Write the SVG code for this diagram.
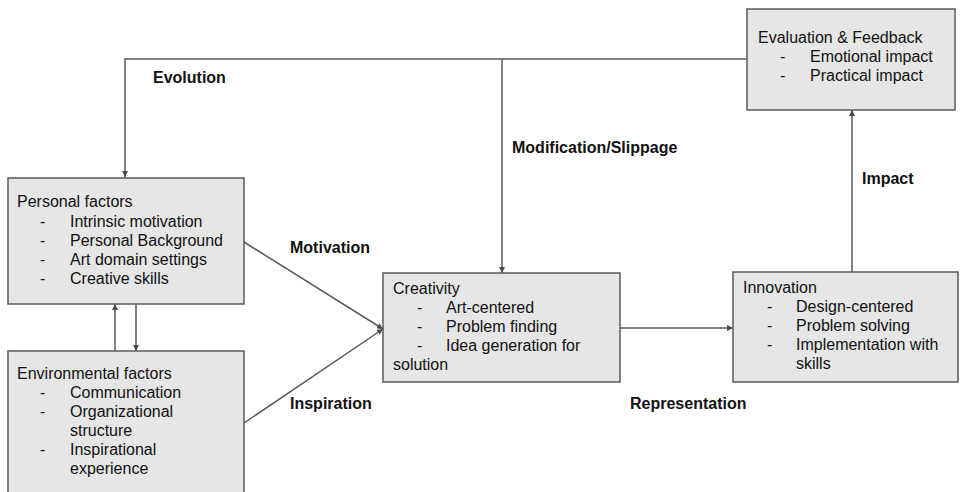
<svg xmlns="http://www.w3.org/2000/svg" width="962" height="492" viewBox="0 0 962 492">
<style>
.box{fill:#e6e6e6;stroke:#5a5a5a;stroke-width:1.5}
.t{font-family:"Liberation Sans",Arial,sans-serif;font-size:16px;fill:#111}
.lb{font-family:"Liberation Sans",Arial,sans-serif;font-size:16px;font-weight:bold;fill:#111}
.ln{fill:none;stroke:#5a5a5a;stroke-width:1.5}
</style>
<defs>
<marker id="ah" viewBox="0 0 10 10" refX="10" refY="5" markerWidth="6" markerHeight="6" orient="auto" markerUnits="userSpaceOnUse">
<path d="M0,0 L10,5 L0,10 z" fill="#4a4a4a"/>
</marker>
</defs>
<rect width="962" height="492" fill="#fff"/>
<g id="connectors">
<path class="ln" d="M747,59 H125 V177" marker-end="url(#ah)"/>
<path class="ln" d="M502,59 V273" marker-end="url(#ah)"/>
<path class="ln" d="M244,242 L383,329" marker-end="url(#ah)"/>
<path class="ln" d="M244,423 L383,329" marker-end="url(#ah)"/>
<path class="ln" d="M115,351 V304" marker-end="url(#ah)"/>
<path class="ln" d="M136,304 V351" marker-end="url(#ah)"/>
<path class="ln" d="M620,328 H733" marker-end="url(#ah)"/>
<path class="ln" d="M852,272 V110" marker-end="url(#ah)"/>
<text class="lb" x="153" y="83">Evolution</text>
<text class="lb" x="512" y="153">Modification/Slippage</text>
<text class="lb" x="290" y="253">Motivation</text>
<text class="lb" x="290" y="409">Inspiration</text>
<text class="lb" x="630" y="409">Representation</text>
<text class="lb" x="862" y="184">Impact</text>
</g>
<g id="personal">
<rect class="box" x="8" y="178" width="236" height="126"/>
<text class="t" x="17" y="207">Personal factors</text>
<text class="t" x="40" y="227">-</text><text class="t" x="70" y="227">Intrinsic motivation</text>
<text class="t" x="40" y="246">-</text><text class="t" x="70" y="246">Personal Background</text>
<text class="t" x="40" y="265">-</text><text class="t" x="70" y="265">Art domain settings</text>
<text class="t" x="40" y="284">-</text><text class="t" x="70" y="284">Creative skills</text>
</g>
<g id="environmental">
<rect class="box" x="8" y="351" width="236" height="150"/>
<text class="t" x="17" y="379">Environmental factors</text>
<text class="t" x="40" y="398">-</text><text class="t" x="70" y="398">Communication</text>
<text class="t" x="40" y="417">-</text><text class="t" x="70" y="417">Organizational</text>
<text class="t" x="70" y="436">structure</text>
<text class="t" x="40" y="455">-</text><text class="t" x="70" y="455">Inspirational</text>
<text class="t" x="70" y="474">experience</text>
</g>
<g id="creativity">
<rect class="box" x="383" y="273" width="237" height="109"/>
<text class="t" x="393" y="294">Creativity</text>
<text class="t" x="417" y="313">-</text><text class="t" x="446" y="313">Art-centered</text>
<text class="t" x="417" y="332">-</text><text class="t" x="446" y="332">Problem finding</text>
<text class="t" x="417" y="351">-</text><text class="t" x="446" y="351">Idea generation for</text>
<text class="t" x="393" y="370">solution</text>
</g>
<g id="innovation">
<rect class="box" x="733" y="272" width="225" height="110"/>
<text class="t" x="743" y="293">Innovation</text>
<text class="t" x="767" y="312">-</text><text class="t" x="796" y="312">Design-centered</text>
<text class="t" x="767" y="331">-</text><text class="t" x="796" y="331">Problem solving</text>
<text class="t" x="767" y="350">-</text><text class="t" x="796" y="350">Implementation with</text>
<text class="t" x="796" y="369">skills</text>
</g>
<g id="evaluation">
<rect class="box" x="747" y="9" width="208" height="101"/>
<text class="t" x="758" y="43">Evaluation &amp; Feedback</text>
<text class="t" x="780" y="62">-</text><text class="t" x="810" y="62">Emotional impact</text>
<text class="t" x="780" y="81">-</text><text class="t" x="810" y="81">Practical impact</text>
</g>
</svg>
